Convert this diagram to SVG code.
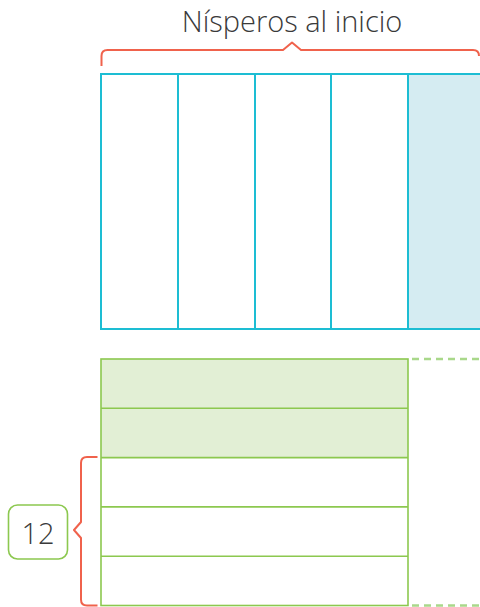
<svg xmlns="http://www.w3.org/2000/svg" width="480" height="607" viewBox="0 0 480 607">
<style>
.brace{fill:none;stroke:#f0624c;stroke-width:2;stroke-linejoin:round}
.cy{fill:none;stroke:#1dbdd3;stroke-width:2}
.gr{fill:none;stroke:#8cc84f;stroke-width:1.6}
.dash{fill:none;stroke:#a9d88a;stroke-width:2.5;stroke-dasharray:7,5}
.t{font-family:"Open Sans","Noto Sans",sans-serif;font-weight:300;fill:#3a3a3a}
</style>
<rect width="480" height="607" fill="#ffffff"/>
<text class="t" x="292" y="32" font-size="29" text-anchor="middle">Nísperos al inicio</text>
<g id="top-bar">
<rect x="408" y="74" width="74" height="255" fill="#d5ecf2"/>
<rect class="cy" x="101" y="74" width="400" height="255"/>
<line class="cy" x1="178" y1="74" x2="178" y2="329"/>
<line class="cy" x1="255" y1="74" x2="255" y2="329"/>
<line class="cy" x1="331" y1="74" x2="331" y2="329"/>
<line class="cy" x1="408" y1="74" x2="408" y2="329"/>
</g>
<g id="bottom-bar">
<rect x="101" y="359" width="307" height="98.6" fill="#e2efd5"/>
<rect class="gr" x="101" y="359" width="307" height="246.5"/>
<line class="gr" x1="101" y1="408.3" x2="408" y2="408.3"/>
<line class="gr" x1="101" y1="457.6" x2="408" y2="457.6"/>
<line class="gr" x1="101" y1="506.9" x2="408" y2="506.9"/>
<line class="gr" x1="101" y1="556.2" x2="408" y2="556.2"/>
</g>
<g id="connectors">
<line class="dash" x1="412" y1="359" x2="480" y2="359"/>
<line class="dash" x1="412" y1="605.5" x2="480" y2="605.5"/>
<path class="brace" d="M101.5,66 V56 Q101.5,50 107.5,50 H283 L292,42.5 L301,50 H473 Q479,50 479,56"/>
<path class="brace" d="M97.5,457 H87 Q81,457 81,463 V522 L74,530 L81,538 V599.5 Q81,605.5 87,605.5 H97.5"/>
</g>
<g id="label-12">
<rect x="8.5" y="505" width="59" height="54" rx="9" fill="#ffffff" stroke="#8cc84f" stroke-width="1.6"/>
<text class="t" x="38" y="544" font-size="29" text-anchor="middle">12</text>
</g>
</svg>
